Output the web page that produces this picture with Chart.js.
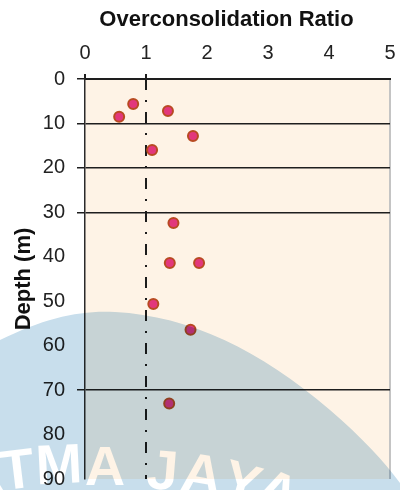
<!DOCTYPE html>
<html>
<head>
<meta charset="utf-8">
<script src="https://cdn.jsdelivr.net/npm/chart.js@4/dist/chart.umd.min.js"></script>
<style>
  html, body { margin: 0; padding: 0; background: #fff; }
  #wrap { width: 400px; height: 490px; position: relative; }
</style>
</head>
<body>
<div id="wrap"><canvas id="chart"></canvas></div>
<script>
// Overconsolidation ratio vs depth
const depths = [5.6, 7.2, 8.5, 12.8, 16.0, 32.4, 41.4, 41.4, 50.6, 56.4, 73.0]
const ocr = [0.79, 1.36, 0.56, 1.77, 1.10, 1.45, 1.39, 1.87, 1.12, 1.73, 1.38]
const refOcr = [1, 1]
const refDepth = [0, 90]
const layerDepths = [10, 20, 30, 70]
const xTicks = [0, 1, 2, 3, 4, 5]
const yTicks = [0, 10, 20, 30, 40, 50, 60, 70, 80, 90]

const font = "'Liberation Sans', Arial, sans-serif"

let points = depths.map((d, i) => ({ x: ocr[i], y: d }))
let refLine = refDepth.map((d, i) => ({ x: refOcr[i], y: d }))

const plotBg = {
  id: 'plotBg',
  beforeDraw(chart) {
    let a = chart.chartArea
    let c = chart.ctx
    c.save()
    c.fillStyle = '#fef3e6'
    c.fillRect(a.left, a.top, a.right - a.left, a.bottom - a.top)
    c.restore()
  }
}

// university watermark over the picture
const watermark = {
  id: 'watermark',
  afterDraw(chart) {
    let w = chart.width, h = chart.height
    let off = document.createElement('canvas')
    off.width = w
    off.height = h
    let o = off.getContext('2d')
    o.beginPath()
    o.moveTo(0, 340)
    o.bezierCurveTo(45, 318, 80, 310, 115, 312)
    o.bezierCurveTo(190, 316, 260, 350, 330, 410)
    o.bezierCurveTo(365, 440, 390, 468, 405, 490)
    o.lineTo(0, h)
    o.closePath()
    o.fillStyle = 'rgb(200,222,236)'
    o.fill()

    let letters = [['A', -22, 458, -0.2], ['T', 15, 451, -0.12], ['M', 58, 446, -0.05], ['A', 105, 448, 0],
                   ['J', 164, 452, 0.08], ['A', 205, 456, 0.16], ['Y', 247, 465, 0.28], ['A', 285, 475, 0.4]]
    o.globalCompositeOperation = 'destination-out'
    o.fillStyle = '#000'
    o.font = 'bold 56px ' + font
    o.textAlign = 'center'
    o.textBaseline = 'top'
    letters.forEach(l => {
      o.save()
      o.translate(l[1], l[2])
      o.rotate(l[3])
      o.fillText(l[0], 0, -6)
      o.restore()
    })

    let c = chart.ctx
    c.save()
    c.globalCompositeOperation = 'multiply'
    c.drawImage(off, 0, 0, w, h)
    c.restore()
  }
}

new Chart(document.getElementById('chart'), {
  type: 'scatter',
  data: {
    datasets: [
      {
        data: points,
        pointRadius: 5,
        pointHoverRadius: 5,
        pointBorderWidth: 2,
        backgroundColor: '#e2377c',
        borderColor: '#b84a22',
        order: 0
      },
      {
        type: 'line',
        data: refLine,
        borderColor: '#1c1c1c',
        borderWidth: 2,
        borderDash: [11, 10, 2, 10],
        pointRadius: 0,
        fill: false,
        order: 1
      }
    ]
  },
  options: {
    responsive: true,
    maintainAspectRatio: false,
    animation: false,
    events: [],
    layout: { padding: { left: 0, right: 10, top: 0, bottom: 11 } },
    plugins: {
      legend: { display: false },
      tooltip: { enabled: false }
    },
    scales: {
      x: {
        type: 'linear',
        position: 'top',
        min: 0,
        max: 5,
        afterBuildTicks: s => { s.ticks = xTicks.map(v => ({ value: v })) },
        afterFit: s => { s.height = 79; s.paddingLeft = 0; s.paddingRight = 0 },
        border: { display: true, color: '#1e1e1e', width: 2 },
        grid: {
          drawOnChartArea: true,
          tickLength: 5,
          lineWidth: 2,
          color: ctx => ctx.tick && ctx.tick.value === 5 ? '#c4c4c4' : 'rgba(0,0,0,0)',
          tickColor: ctx => ctx.tick && (ctx.tick.value === 0 || ctx.tick.value === 1) ? '#1e1e1e' : 'rgba(0,0,0,0)'
        },
        ticks: {
          padding: 9,
          color: '#222',
          font: { family: font, size: 20 }
        },
        title: {
          display: true,
          text: 'Overconsolidation Ratio\u2002\u2002',
          color: '#111',
          padding: { top: 7, bottom: 0 },
          font: { family: font, size: 22, weight: 'bold' }
        }
      },
      y: {
        type: 'linear',
        reverse: true,
        min: 0,
        max: 90,
        afterBuildTicks: s => { s.ticks = yTicks.map(v => ({ value: v })) },
        afterFit: s => { s.width = 85; s.paddingTop = 0; s.paddingBottom = 0 },
        border: { display: true, color: '#2a2a2a', width: 1.5 },
        grid: {
          tickLength: 8,
          lineWidth: 1.5,
          color: ctx => ctx.tick && layerDepths.includes(ctx.tick.value) ? '#1e1e1e' : 'rgba(0,0,0,0)',
          tickColor: ctx => ctx.tick && (ctx.tick.value === 0 || layerDepths.includes(ctx.tick.value)) ? '#1e1e1e' : 'rgba(0,0,0,0)'
        },
        ticks: {
          padding: 12,
          color: '#222',
          font: { family: font, size: 20 }
        },
        title: {
          display: true,
          text: 'Depth (m)',
          color: '#111',
          padding: { top: 11, bottom: 0 },
          font: { family: font, size: 22, weight: 'bold' }
        }
      }
    }
  },
  plugins: [plotBg, watermark]
})
</script>
</body>
</html>
